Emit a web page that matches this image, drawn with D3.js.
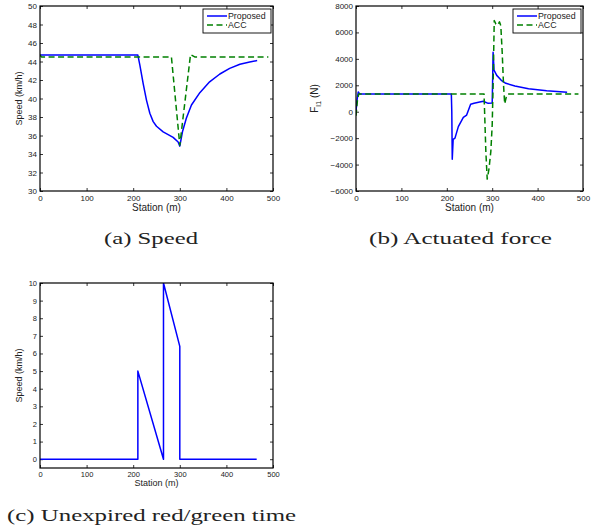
<!DOCTYPE html>
<html>
<head>
<meta charset="utf-8">
<script src="https://cdn.jsdelivr.net/npm/d3@7"></script>
<style>
  body { margin: 0; background: #fff; }
  svg { display: block; }
</style>
</head>
<body>
<svg id="chart" width="600" height="531" font-family="Liberation Sans, Arial, Helvetica, sans-serif"></svg>
<script>
// ---------- DATA ----------
const stationTicks = [0, 100, 200, 300, 400, 500];
const speedTicks = [30, 32, 34, 36, 38, 40, 42, 44, 46, 48, 50];
const forceTicks = [-6000, -4000, -2000, 0, 2000, 4000, 6000, 8000];
const unexpTicks = [0, 1, 2, 3, 4, 5, 6, 7, 8, 9, 10];
const seriesNames = ["Proposed", "ACC"];

// (a) Speed
const speedPropStation = [0, 210, 214.3, 221.4, 228.6, 235.7, 242.9, 250, 264.3, 285.7, 296.4, 300,
  305.7, 314, 325, 343, 364, 386, 407, 429, 450, 466];
const speedPropValue = [44.7, 44.7, 43.6, 41.6, 39.8, 38.4, 37.5, 37.0, 36.4, 35.8, 35.3, 34.85,
  36.4, 37.86, 39.3, 40.63, 41.8, 42.65, 43.26, 43.7, 43.95, 44.1];
const speedAccStation = [0, 3, 282, 300, 323, 332, 490];
const speedAccValue = [44.7, 44.5, 44.5, 34.95, 44.75, 44.5, 44.5];

// (b) Actuated force
const forcePropStation = [0, 2, 5, 8, 210, 211, 212, 214, 218, 225.4, 236.4, 243.7, 252.5, 260, 270, 280.4, 291, 300,
  301, 302, 304, 310, 320, 330, 350, 380, 420, 465];
const forcePropValue = [0, 800, 1500, 1350, 1350, 0, -3600, -2100, -2000, -1130, -425, -250, 560, 640, 720, 790, 635, 650,
  2500, 4500, 3150, 2750, 2380, 2150, 1950, 1740, 1590, 1480];
const forceAccStation = [0, 3, 6, 282, 286, 289, 293, 297, 300, 302, 304.5, 308, 312, 316, 319, 322, 325, 327.5, 331, 335, 490];
const forceAccValue = [-300, 800, 1350, 1350, -3000, -5100, -4300, -3000, -1000, 2000, 6900, 6650, 6550, 6800, 6500, 4500, 2000, 600, 1100, 1350, 1350];

// (c) Unexpired red/green time
const unexpStation = [0, 210, 210, 265, 265, 300, 300, 465];
const unexpValue = [0, 0, 5, 0, 10, 6.4, 0, 0];

const captions = ["(a) Speed", "(b) Actuated force", "(c) Unexpired red/green time"];

// ---------- DRAW ----------
const svg = d3.select("#chart");
const BLUE = "#0000ff", GREEN = "#008000";
const SANS = "Liberation Sans, Arial, Helvetica, sans-serif";
const SERIF = "Liberation Serif, Times New Roman, serif";

function zip(xs, ys) { return xs.map((x, i) => ({x, y: ys[i]})); }

function panel(opt) {
  const g = svg.append("g");
  const x = d3.scaleLinear().domain([0, 500]).range([opt.left, opt.right]);
  const y = d3.scaleLinear().domain(opt.ydom).range([opt.bottom, opt.top]);
  const clipId = "clip" + opt.id;
  svg.append("clipPath").attr("id", clipId).append("rect")
    .attr("x", opt.left).attr("y", opt.top)
    .attr("width", opt.right - opt.left).attr("height", opt.bottom - opt.top);

  const tl = 3;
  const xb = d3.axisBottom(x).tickValues(stationTicks).tickSize(-tl).tickPadding(opt.xpad).tickFormat(d3.format("d"));
  const gx = g.append("g").attr("transform", `translate(0,${opt.bottom})`).call(xb);
  const xt = d3.axisTop(x).tickValues(stationTicks).tickSize(-tl).tickFormat("");
  const gxt = g.append("g").attr("transform", `translate(0,${opt.top})`).call(xt);
  const yl = d3.axisLeft(y).tickValues(opt.yticks).tickSize(-tl).tickPadding(opt.ypad).tickFormat(d3.format("d"));
  const gy = g.append("g").attr("transform", `translate(${opt.left},0)`).call(yl);
  const yr = d3.axisRight(y).tickValues(opt.yticks).tickSize(-tl).tickFormat("");
  const gyr = g.append("g").attr("transform", `translate(${opt.right},0)`).call(yr);
  [gx, gxt, gy, gyr].forEach(a => {
    a.attr("font-family", SANS);
    a.select(".domain").remove();
    a.selectAll("line").attr("stroke", "#000").attr("stroke-width", 0.8);
    a.selectAll("text").attr("font-size", opt.tickFont).attr("fill", "#222");
  });

  const line = d3.line().x(d => x(d.x)).y(d => y(d.y));
  const lg = g.append("g").attr("clip-path", `url(#${clipId})`);
  opt.series.forEach(s => {
    lg.append("path").datum(s.data).attr("d", line).attr("fill", "none")
      .attr("stroke", s.color).attr("stroke-width", 1.5)
      .attr("stroke-dasharray", s.dash || null)
      .attr("stroke-linejoin", "round");
  });

  g.append("rect").attr("x", opt.left).attr("y", opt.top)
    .attr("width", opt.right - opt.left).attr("height", opt.bottom - opt.top)
    .attr("fill", "none").attr("stroke", "#000").attr("stroke-width", 1.2);

  g.append("text").attr("x", (opt.left + opt.right) / 2).attr("y", opt.xlabelY)
    .attr("text-anchor", "middle").attr("font-size", opt.labelFont).attr("fill", "#222")
    .text("Station (m)");
  const ylab = g.append("text")
    .attr("transform", `translate(${opt.ylabelX},${(opt.top + opt.bottom) / 2}) rotate(-90)`)
    .attr("text-anchor", "middle").attr("font-size", opt.ylabFont).attr("fill", "#222");
  if (opt.ylabelSub) {
    ylab.append("tspan").text(opt.ylabel);
    ylab.append("tspan").attr("font-size", opt.ylabFont * 0.75).attr("dy", 3).text(opt.ylabelSub);
    ylab.append("tspan").attr("dy", -3).text(" (N)");
  } else {
    ylab.text(opt.ylabel);
  }

  if (opt.legend) {
    const lx = opt.right - 70, ly = opt.top + 3;
    const lgd = g.append("g");
    lgd.append("rect").attr("x", lx).attr("y", ly).attr("width", 68).attr("height", 24)
      .attr("fill", "#fff").attr("stroke", "#000").attr("stroke-width", 0.9);
    opt.series.forEach((s, i) => {
      const yy = ly + 7 + i * 9;
      lgd.append("line").attr("x1", lx + 4).attr("x2", lx + 24).attr("y1", yy).attr("y2", yy)
        .attr("stroke", s.color).attr("stroke-width", 1.5).attr("stroke-dasharray", s.dash || null);
      lgd.append("text").attr("x", lx + 25).attr("y", yy + 3).attr("font-size", 8.8)
        .attr("fill", "#222").text(s.name);
    });
  }

  svg.append("text").attr("x", opt.capX).attr("y", opt.capY)
    .attr("font-family", SERIF).style("font-family", SERIF)
    .attr("font-size", 17).attr("fill", "#222")
    .attr("textLength", opt.capW).attr("lengthAdjust", "spacingAndGlyphs")
    .text(opt.caption);
}

panel({
  id: "a", left: 40, right: 273, top: 6, bottom: 191, ydom: [30, 50], yticks: speedTicks,
  xpad: 4, ypad: 3, tickFont: 8, labelFont: 10, ylabFont: 9, xlabelY: 211,
  ylabel: "Speed (km/h)", ylabelX: 22, legend: true,
  series: [
    {name: seriesNames[0], color: BLUE, data: zip(speedPropStation, speedPropValue)},
    {name: seriesNames[1], color: GREEN, dash: "6,3.5", data: zip(speedAccStation, speedAccValue)}
  ],
  caption: captions[0], capX: 104, capY: 244, capW: 94
});

panel({
  id: "b", left: 356, right: 583, top: 6, bottom: 191, ydom: [-6000, 8000], yticks: forceTicks,
  xpad: 4, ypad: 3, tickFont: 8, labelFont: 10, ylabFont: 10, xlabelY: 211,
  ylabel: "F", ylabelSub: "l1", ylabelX: 318, legend: true,
  series: [
    {name: seriesNames[0], color: BLUE, data: zip(forcePropStation, forcePropValue)},
    {name: seriesNames[1], color: GREEN, dash: "6,3.5", data: zip(forceAccStation, forceAccValue)}
  ],
  caption: captions[1], capX: 369, capY: 244, capW: 183
});

panel({
  id: "c", left: 40, right: 273, top: 283, bottom: 468, ydom: [-0.5, 10], yticks: unexpTicks,
  xpad: 4, ypad: 3, tickFont: 7.5, labelFont: 9, ylabFont: 9, xlabelY: 486,
  ylabel: "Speed (km/h)", ylabelX: 22, legend: false,
  series: [
    {name: seriesNames[0], color: BLUE, data: zip(unexpStation, unexpValue)}
  ],
  caption: captions[2], capX: 7, capY: 521, capW: 289
});
</script>
</body>
</html>
